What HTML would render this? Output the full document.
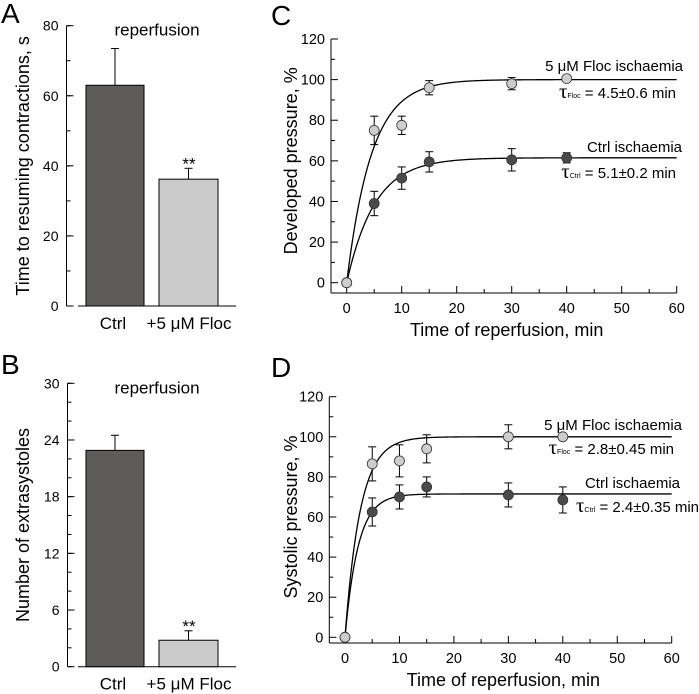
<!DOCTYPE html>
<html><head><meta charset="utf-8"><style>
body{margin:0;background:#fff}
svg{display:block;font-family:"Liberation Sans",Arial,sans-serif}
</style></head><body>
<svg id="fig" width="699" height="694" viewBox="0 0 699 694" xmlns="http://www.w3.org/2000/svg">
<g id="root"></g>
</svg>
<script>
// ---- Panel A data ----
const barCats = ["Ctrl", "+5 \u03bcM Floc"];
const aValues = [63, 36.2];
const aErrors = [10.5, 3.1];
const aTicks = [0, 20, 40, 60, 80];
// ---- Panel B data ----
const bValues = [22.9, 2.8];
const bErrors = [1.6, 1.0];
const bTicks = [0, 6, 12, 18, 24, 30];
// ---- Panel C data ----
const timePts = [0, 5, 10, 15, 30, 40];
const cFloc = [0, 75, 77.5, 96, 98, 100.5];
const cFlocErr = [0, 7, 4.5, 3.5, 3, 0];
const cCtrl = [0, 39, 51.5, 59.5, 60.5, 61.5];
const cCtrlErr = [0, 6, 5.5, 5, 5.5, 2.5];
const cFitFloc = [100, 4.5];
const cFitCtrl = [61.5, 5.1];
// ---- Panel D data ----
const dFloc = [0, 86.5, 88, 94, 100, 100];
const dFlocErr = [0, 8.5, 8, 7, 6, 0];
const dCtrl = [0, 62.5, 70, 75, 71, 68.5];
const dCtrlErr = [0, 7, 6, 5, 6, 6.5];
const dFitFloc = [100, 2.8];
const dFitCtrl = [71.5, 2.4];
const xTicks = [0, 10, 20, 30, 40, 50, 60];
const yTicksCD = [0, 20, 40, 60, 80, 100, 120];

const NS = "http://www.w3.org/2000/svg";
const root = document.getElementById("root");
function el(tag, attrs, parent, text) {
  const e = document.createElementNS(NS, tag);
  for (const k in attrs) e.setAttribute(k, attrs[k]);
  if (text !== undefined) e.textContent = text;
  (parent || root).appendChild(e);
  return e;
}
function line(x1,y1,x2,y2,p,w){return el("line",{x1,y1,x2,y2,stroke:"#000","stroke-width":w||1},p);}

function barPanel(cfg) {
  const g = el("g", {});
  
  
  const y = v => cfg.y0 + (cfg.y1 - cfg.y0) * v / cfg.max;
  const L = el("text",{x:1,y:cfg.letterY,"font-size":28},g,cfg.letter);
  
  
  const ax = el("g",{},g);
  
  
  line(cfg.ax, y(cfg.max), cfg.ax, cfg.y0, ax);
  line(78, cfg.y0, 236, cfg.y0, ax);
  for (let v = 0; v <= cfg.max + 1e-9; v += cfg.minor) line(cfg.ax, y(v), cfg.ax + 4, y(v), ax);
  cfg.ticks.forEach(t => {
    line(cfg.ax, y(t), cfg.ax + 7, y(t), ax);
    const tl = el("text",{x:cfg.ax-8,y:y(t)+5,"font-size":14,"text-anchor":"end"},ax,String(t));
    
    
  });
  const yt = el("text",{transform:`translate(29,${(cfg.y0+y(cfg.max))/2}) rotate(-90)`,"font-size":cfg.ytsize,"text-anchor":"middle"},g,cfg.ytitle);
  
  
  const tt = el("text",{x:157,y:y(cfg.max)+10,"font-size":17,"text-anchor":"middle"},g,"reperfusion");
  
  
  const xs = [[86,144],[159,218]];
  const fills = ["#5d5c5b","#cbcbcb"];
  cfg.values.forEach((v,i) => {
    const [a,b] = xs[i];
    const top = y(v + cfg.errors[i]);
    const eb = line((a+b)/2, top, (a+b)/2, y(v), g);
    
    
    line((a+b)/2-4, top, (a+b)/2+4, top, g);
    const r = el("rect",{x:a,y:y(v),width:b-a,height:cfg.y0-y(v),fill:fills[i],stroke:"#000","stroke-width":1},g);
    
    
    const lab = el("text",{x:i===0?113:189,y:cfg.y0+23,"font-size":17,"text-anchor":"middle"},g,barCats[i]);
    
    
  });
  const st = el("text",{x:189,y:y(cfg.values[1]+cfg.errors[1])+1,"font-size":17,"text-anchor":"middle"},g,"**");
  
  
}
barPanel({name:"panel-a",letter:"A",letterY:23,ax:66.5,y0:306,y1:25.7,max:80,minor:10,ticks:aTicks,values:aValues,errors:aErrors,ytitle:"Time to resuming contractions, s",ytsize:18});
barPanel({name:"panel-b",letter:"B",letterY:374,ax:67.5,y0:666.7,y1:383.3,max:30,minor:2,ticks:bTicks,values:bValues,errors:bErrors,ytitle:"Number of extrasystoles",ytsize:18});

function curvePanel(cfg) {
  const g = el("g", {});
  
  
  const X = t => cfg.x0 + (cfg.x60 - cfg.x0) * t / 60;
  const Y = v => cfg.y0 + (cfg.y120 - cfg.y0) * v / 120;
  const L = el("text",{x:271,y:cfg.letterY,"font-size":28},g,cfg.letter);
  
  
  const ya = el("g",{},g);
  
  
  line(cfg.ax, Y(120), cfg.ax, cfg.xa, ya);
  for (let v = 0; v <= 120; v += 10) line(cfg.ax, Y(v), cfg.ax + (v%20===0?7:4), Y(v), ya);
  yTicksCD.forEach(t => {
    const tl = el("text",{x:cfg.ax-6,y:Y(t)+5,"font-size":14.5,"text-anchor":"end"},ya,String(t));
    
    
  });
  const xa = el("g",{},g);
  
  
  line(cfg.ax, cfg.xa, X(60), cfg.xa, xa);
  for (let t = 0; t <= 60; t += 5) line(X(t), cfg.xa, X(t), cfg.xa - (t%10===0?7:4), xa);
  xTicks.forEach(t => {
    const tl = el("text",{x:X(t),y:cfg.xa+20,"font-size":14.5,"text-anchor":"middle"},xa,String(t));
    
    
  });
  const xt = el("text",{x:(X(0)+X(60))/2-5,y:cfg.xa+43,"font-size":18,"text-anchor":"middle"},g,"Time of reperfusion, min");
  
  
  const yt = el("text",{transform:`translate(297,${(Y(0)+Y(120))/2}) rotate(-90)`,"font-size":18,"text-anchor":"middle"},g,cfg.ytitle);
  
  
  [cfg.fitFloc, cfg.fitCtrl].forEach((f,k) => {
    let d = "";
    for (let t = 0; t <= 60.001; t += 0.25) {
      const v = f[0] * (1 - Math.exp(-t / f[1]));
      d += (t===0?"M":"L") + X(t).toFixed(2) + "," + Y(v).toFixed(2);
    }
    const p = el("path",{d,fill:"none",stroke:"#000","stroke-width":1.3},g);
    
    
  });
  [[cfg.ctrl,cfg.ctrlErr,"#4a4a4a","ctrl"],[cfg.floc,cfg.flocErr,"#cdcdcd","floc"]].forEach(([vals,errs,fill,nm]) => {
    vals.forEach((v,i) => {
      const t = timePts[i];
      if (errs[i] > 0) {
        const eg = el("g",{},g);
        
        
        line(X(t), Y(v+errs[i]), X(t), Y(v-errs[i]), eg);
        line(X(t)-4, Y(v+errs[i]), X(t)+4, Y(v+errs[i]), eg);
        line(X(t)-4, Y(v-errs[i]), X(t)+4, Y(v-errs[i]), eg);
      }
      const c = el("circle",{cx:X(t),cy:Y(v),r:5,fill,stroke:"#333","stroke-width":0.8},g);
      
      
    });
  });
  cfg.labels.forEach(([txt,x,y,sub,name]) => {
    const t = el("text",{x,y,"font-size":15,"text-anchor":"end"},g);
    
    
    if (sub) {
      el("tspan",{"font-size":21,"font-family":"Liberation Serif, serif"},t,"\u03c4");
      el("tspan",{"font-size":7},t,sub);
      el("tspan",{},t," " + txt);
    } else t.textContent = txt;
  });
}
curvePanel({name:"panel-c",letter:"C",letterY:25,x0:346.7,x60:676.7,y0:282.7,y120:39,ax:331,xa:293,
  floc:cFloc,flocErr:cFlocErr,ctrl:cCtrl,ctrlErr:cCtrlErr,fitFloc:cFitFloc,fitCtrl:cFitCtrl,
  ytitle:"Developed pressure, %",
  labels:[["5 \u03bcM Floc ischaemia",683,71,null,"legend-floc"],["= 4.5\u00b10.6 min",676,98,"Floc","tau-floc"],
          ["Ctrl ischaemia",682,152,null,"legend-ctrl"],["= 5.1\u00b10.2 min",676,178,"Ctrl","tau-ctrl"]]});
curvePanel({name:"panel-d",letter:"D",letterY:377,x0:345,x60:671.7,y0:637.3,y120:396.7,ax:329.3,xa:643,
  floc:dFloc,flocErr:dFlocErr,ctrl:dCtrl,ctrlErr:dCtrlErr,fitFloc:dFitFloc,fitCtrl:dFitCtrl,
  ytitle:"Systolic pressure, %",
  labels:[["5 \u03bcM Floc ischaemia",682,430,null,"legend-floc"],["= 2.8\u00b10.45 min",674,454,"Floc","tau-floc"],
          ["Ctrl ischaemia",680,488,null,"legend-ctrl"],["= 2.4\u00b10.35 min",699,512,"Ctrl","tau-ctrl"]]});
</script>
</body></html>
